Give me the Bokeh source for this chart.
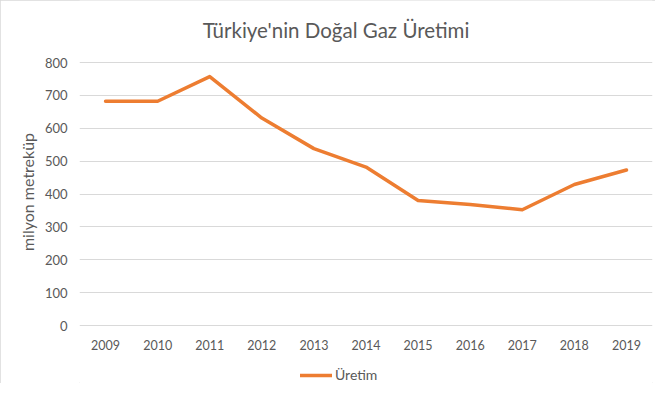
from bokeh.plotting import figure
from bokeh.models import (FactorRange, Range1d, Legend, LegendItem, FixedTicker,
                          Label, ColumnDataSource)
from bokeh.core.properties import value
from bokeh.embed import file_html
from bokeh.resources import INLINE

years = ["2009", "2010", "2011", "2012", "2013", "2014", "2015", "2016", "2017", "2018", "2019"]
production = [682, 682, 757, 631, 538, 482, 380, 368, 352, 429, 473]
y_ticks = [0, 100, 200, 300, 400, 500, 600, 700, 800]
title_text = "Türkiye'nin Doğal Gaz Üretimi"
y_label = "milyon metreküp"
series_name = "Üretim"

FONT = "Lato"
TXT = "#595959"
GRID = "#d9d9d9"

W, H = 655, 383
# plot area (value axis 0..800) spans 62px..325px from the top; frame covers full height
PX_PER_UNIT = (325 - 62) / 800.0
y_start = -(H - 325) / PX_PER_UNIT
y_end = 800 + 62 / PX_PER_UNIT

p = figure(width=W, height=H,
           x_range=FactorRange(*years, range_padding=0),
           y_range=Range1d(y_start, y_end),
           x_axis_location=None,
           output_backend="svg", toolbar_location=None,
           min_border_left=79, min_border_right=3,
           min_border_top=0, min_border_bottom=0)

p.styles = {"outline": "1px solid #d9d9d9", "outline-offset": "-1px"}
p.outline_line_color = None
p.background_fill_color = "white"

r = p.line(x=years, y=production, line_color="#ED7D31", line_width=3.5,
           line_join="round", line_cap="round")

# category labels under the zero line
src = ColumnDataSource(dict(x=years, y=[0] * len(years)))
p.text(x="x", y="y", text="x", source=src, y_offset=19,
       text_align="center", text_baseline="middle",
       text_font=value(FONT), text_font_size=value("12.5px"), text_color=TXT)

# value axis
p.yaxis.ticker = FixedTicker(ticks=y_ticks)
p.yaxis.bounds = (0, 800)
p.yaxis.axis_line_color = None
p.yaxis.major_tick_line_color = None
p.yaxis.minor_tick_line_color = None
p.yaxis.major_label_standoff = 6
p.yaxis.major_label_text_font = FONT
p.yaxis.major_label_text_font_size = "13px"
p.yaxis.major_label_text_color = TXT
p.yaxis.axis_label = y_label
p.yaxis.axis_label_text_font = FONT
p.yaxis.axis_label_text_font_size = "16px"
p.yaxis.axis_label_text_font_style = "normal"
p.yaxis.axis_label_text_color = TXT
p.yaxis.axis_label_standoff = 5

p.xgrid.grid_line_color = None
p.ygrid.ticker = FixedTicker(ticks=y_ticks)
p.ygrid.grid_line_color = GRID
p.ygrid.grid_line_width = 1

# title
p.add_layout(Label(x=335.5 - 79, y=H - 29, x_units="screen", y_units="screen",
                   text=title_text, text_align="center", text_baseline="middle",
                   text_font=FONT, text_font_size="20.5px", text_color=TXT))

legend = Legend(items=[LegendItem(label=series_name, renderers=[r])],
                orientation="horizontal", location=(221, 0),
                border_line_color=None, background_fill_alpha=0,
                label_text_font=FONT, label_text_font_size="14px",
                label_text_color=TXT, glyph_width=32, glyph_height=14,
                label_standoff=3, padding=0, margin=0)
p.add_layout(legend, "center")

open("out.html", "w").write(file_html(p, INLINE))
